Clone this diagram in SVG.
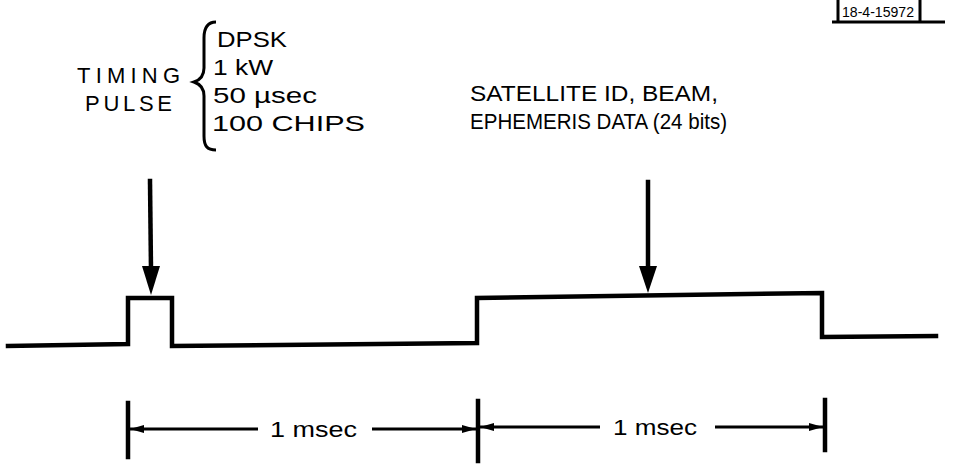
<svg xmlns="http://www.w3.org/2000/svg" width="956" height="465" viewBox="0 0 956 465">
<defs>
<style>
text{font-family:"Liberation Sans","DejaVu Sans",sans-serif;fill:#000;}
.lbl{font-size:22px;}
.ln{fill:none;stroke:#000;stroke-width:4.5;stroke-linejoin:miter;stroke-linecap:square;}
.thin{fill:none;stroke:#000;stroke-width:3;}
.head{fill:#000;stroke:none;}
</style>
<marker id="dh" markerWidth="14" markerHeight="8" refX="14" refY="4" orient="auto" markerUnits="userSpaceOnUse" viewBox="0 0 14 8">
<path d="M0,0 L14,4 L0,8 Z" fill="#000"/>
</marker>
</defs>
<g id="tag">
<path class="thin" d="M838,0 V22 M920,0 V22 M832,22 H945"/>
<text x="842" y="17" font-size="15" textLength="72" lengthAdjust="spacingAndGlyphs">18-4-15972</text>
</g>
<g id="timing-label">
<text class="lbl" x="77" y="83" textLength="103" lengthAdjust="spacing" font-size="20">TIMING</text>
<text class="lbl" x="85" y="111" textLength="87" lengthAdjust="spacing" font-size="20">PULSE</text>
<path class="thin" d="M216,22 C207,22 204,28 204,38 L204,68 C204,76 200,80 194,82 C200,84 204,88 204,96 L204,136 C204,146 207,150 216,150"/>
<text class="lbl" x="217" y="47" textLength="70" lengthAdjust="spacingAndGlyphs">DPSK</text>
<text class="lbl" x="213" y="75" textLength="60" lengthAdjust="spacingAndGlyphs">1 kW</text>
<text class="lbl" x="213" y="103" textLength="104" lengthAdjust="spacingAndGlyphs">50 µsec</text>
<text class="lbl" x="212" y="131" textLength="153" lengthAdjust="spacingAndGlyphs">100 CHIPS</text>
</g>
<g id="data-label">
<text class="lbl" x="470" y="101" textLength="248" lengthAdjust="spacingAndGlyphs">SATELLITE ID, BEAM,</text>
<text class="lbl" x="470" y="129" textLength="257" lengthAdjust="spacingAndGlyphs">EPHEMERIS DATA (24 bits)</text>
</g>
<g id="waveform">
<polyline class="ln" points="8,346 128,344 128,298 172,298 172,346 477,343 477,298 822,293 822,337 936,336"/>
</g>
<g id="connectors">
<line class="ln" x1="150" y1="181" x2="151" y2="270"/>
<polygon class="head" points="142,266 160,266 151,295"/>
<line class="ln" x1="648" y1="182" x2="648" y2="270"/>
<polygon class="head" points="639,266 657,266 648,293"/>
<g id="dimensions">
<path class="ln" d="M128,403 V457 M478,401 V461 M825,400 V450"/>
<line class="thin" x1="258" y1="429" x2="130" y2="429" marker-end="url(#dh)"/>
<line class="thin" x1="372" y1="429" x2="476" y2="429" marker-end="url(#dh)"/>
<line class="thin" x1="600" y1="427" x2="480" y2="427" marker-end="url(#dh)"/>
<line class="thin" x1="715" y1="427" x2="823" y2="427" marker-end="url(#dh)"/>
</g>
</g>
<g id="dim-labels">
<text class="lbl" x="270" y="437" textLength="87" lengthAdjust="spacingAndGlyphs">1 msec</text>
<text class="lbl" x="613" y="435" textLength="84" lengthAdjust="spacingAndGlyphs">1 msec</text>
</g>
</svg>
